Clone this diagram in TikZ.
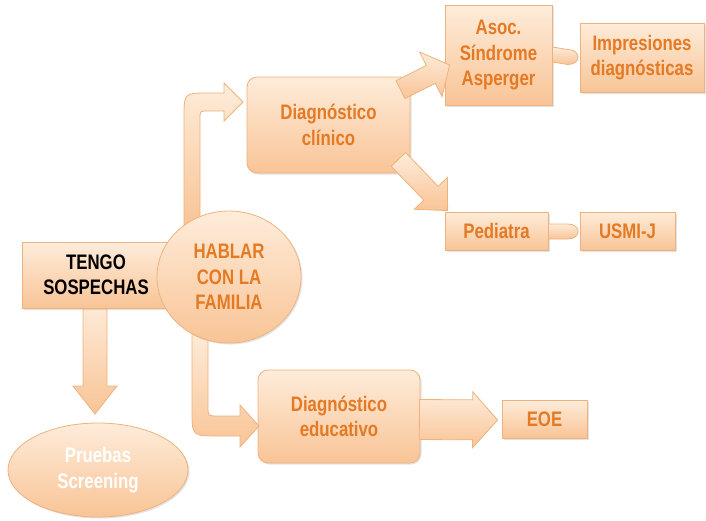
\documentclass[tikz,border=0pt]{standalone}
\usepackage{fontspec}
\setmainfont{Liberation Sans}[FakeStretch=0.8]
\usetikzlibrary{calc,shadows,shapes.geometric}
\definecolor{peachA}{RGB}{254,236,218}
\definecolor{peachB}{RGB}{249,196,150}
\definecolor{peachLine}{RGB}{238,178,126}
\definecolor{txtOrange}{RGB}{228,122,36}
\tikzset{
  shadefill/.style={draw=peachLine, line width=0.8pt, top color=peachA, bottom color=peachB},
  box/.style={shadefill, drop shadow={opacity=0.22, shadow xshift=1.5pt, shadow yshift=-1.5pt},
    font=\fontsize{21}{25.5}\selectfont\bfseries, text=txtOrange, align=center, inner sep=2pt},
  roundbox/.style={box, rounded corners=10pt},
  ovalbox/.style={box, ellipse, inner sep=0pt},
  arrowfill/.style={shadefill},
}
\newcommand\blockarrow[5]{%
  \coordinate (ba-h) at ($(#2)!#5pt!(#1)$);
  \path[arrowfill] ($(#1)!#3pt!90:(#2)$) -- ($(ba-h)!#3pt!-90:(#1)$) -- ($(ba-h)!#4pt!-90:(#1)$)
    -- (#2) -- ($(ba-h)!#4pt!90:(#1)$) -- ($(ba-h)!#3pt!90:(#1)$) -- ($(#1)!#3pt!-90:(#2)$) -- cycle;}
\begin{document}
\begin{tikzpicture}[x=1pt,y=-1pt]
\useasboundingbox (0,0) rectangle (706,520);

% top-right boxes
\node[box, minimum width=107pt, minimum height=100pt] (asoc) at (498.5,55) {Asoc.\\Síndrome\\Asperger};
\node[box, minimum width=124pt, minimum height=69pt] (impr) at (642,57.5) {Impresiones\\diagnósticas};
\node[box, minimum width=103pt, minimum height=38pt] (pedi) at (496.5,231) {Pediatra};
\node[box, minimum width=95pt, minimum height=38pt] (usmi) at (627.5,231) {USMI-J};
\node[box, minimum width=85pt, minimum height=38pt] (eoe) at (544.5,419) {EOE};

% small tab connectors
\path[arrowfill] ($(asoc.east)+(0,-8)$) -- ($(impr.west)+(-12,-8)$) .. controls ($(impr.west)+(2,-8)$) and ($(impr.west)+(2,7)$) .. ($(impr.west)+(-12,7)$) -- ($(asoc.east)+(0,7)$) -- cycle;
\path[arrowfill] ($(pedi.east)+(0,-7)$) -- ($(usmi.west)+(-12,-7)$) .. controls ($(usmi.west)+(2,-7)$) and ($(usmi.west)+(2,8)$) .. ($(usmi.west)+(-12,8)$) -- ($(pedi.east)+(0,8)$) -- cycle;

% clinic box and its two arrows
\node[roundbox, minimum width=163pt, minimum height=96pt] (clin) at (328.5,125) {Diagnóstico\\clínico};
\coordinate (d1s) at ($(clin.north east)+(-10,13)$);
\coordinate (d1t) at ($(asoc.west)+(5,10)$);
\blockarrow{d1s}{d1t}{10}{25}{21}
\coordinate (d2s) at ($(clin.south east)+(-12,-14)$);
\coordinate (d2t) at ($(pedi.north west)+(3,-1)$);
\blockarrow{d2s}{d2t}{10}{23}{24}

% educativo box and arrow to EOE
\node[roundbox, minimum width=162pt, minimum height=93pt] (educ) at (339,416.5) {Diagnóstico\\educativo};
\coordinate (d3s) at ($(educ.east)+(-1,3)$);
\coordinate (d3t) at ($(eoe.west)+(-4,1)$);
\blockarrow{d3s}{d3t}{20}{28}{25}

% down arrow to screening
\coordinate (d4s) at (95,300);
\coordinate (d4t) at (95,414);
\blockarrow{d4s}{d4t}{12}{22}{28}

% tengo box
\node[box, minimum width=158pt, minimum height=66pt, text=black] (tengo) at (101,275) {\hspace*{-10pt}TENGO\\\hspace*{-10pt}SOSPECHAS};

% bent arrows from the circle
\path[arrowfill] (184,225) -- (184,118) .. controls (184,93) .. (209,93) -- (224,93) -- (224,83)
  -- (243,102) -- (224,121) -- (224,111) -- (208,111) .. controls (200,111) .. (200,119) -- (200,225) -- cycle;
\path[arrowfill] (192,330) -- (192,410) .. controls (192,436) .. (218,436) -- (240,436) -- (240,447)
  -- (259,426) -- (240,405) -- (240,416) -- (218,416) .. controls (208,416) .. (208,406) -- (208,330) -- cycle;

% circle
\node[ovalbox, minimum width=144pt, minimum height=132pt] (habl) at (229,277) {HABLAR\\CON LA\\FAMILIA};

% screening
\node[ovalbox, minimum width=180pt, minimum height=94pt, text=white] (prue) at (98,470) {Pruebas\\Screening};
\end{tikzpicture}
\end{document}
